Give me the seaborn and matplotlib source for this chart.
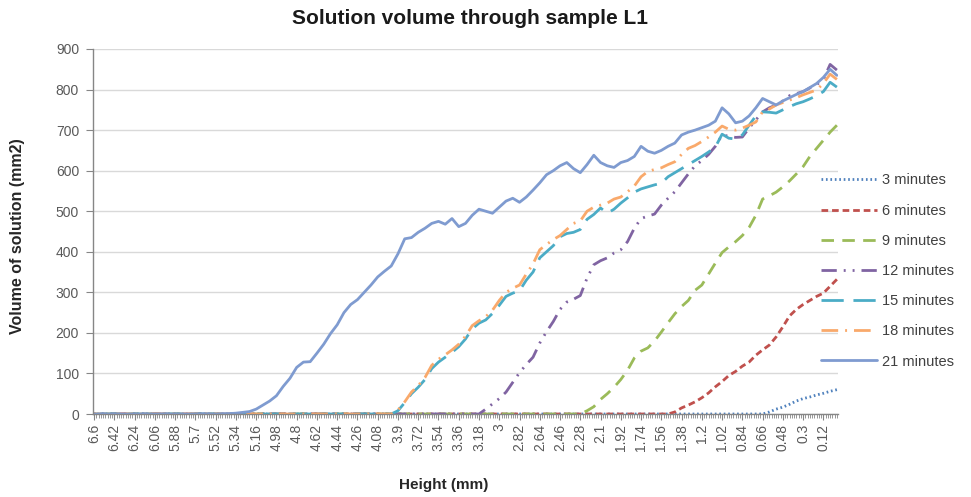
import numpy as np
import pandas as pd
import matplotlib
matplotlib.use("Agg")
import matplotlib.pyplot as plt
import seaborn as sns

# --- data: volume of solution (mm2) read every 0.06 mm of height, 6.6 -> 0.0 ---
heights = [round(6.6 - 0.06 * k, 2) for k in range(111)]

vol_3min = [
    0, 0, 0, 0, 0, 0, 0, 0, 0, 0, 0, 0, 0, 0, 0, 0, 0, 0, 0, 0,
    0, 0, 0, 0, 0, 0, 0, 0, 0, 0, 0, 0, 0, 0, 0, 0, 0, 0, 0, 0,
    0, 0, 0, 0, 0, 0, 0, 0, 0, 0, 0, 0, 0, 0, 0, 0, 0, 0, 0, 0,
    0, 0, 0, 0, 0, 0, 0, 0, 0, 0, 0, 0, 0, 0, 0, 0, 0, 0, 0, 0,
    0, 0, 0, 0, 0, 0, 0, 0, 0, 0, 0, 0, 0, 0, 0, 0, 0, 0, 0, 0,
    5, 12, 17, 24, 32, 38, 42, 47, 51, 56, 60,
]
vol_6min = [
    0, 0, 0, 0, 0, 0, 0, 0, 0, 0, 0, 0, 0, 0, 0, 0, 0, 0, 0, 0,
    0, 0, 0, 0, 0, 0, 0, 0, 0, 0, 0, 0, 0, 0, 0, 0, 0, 0, 0, 0,
    0, 0, 0, 0, 0, 0, 0, 0, 0, 0, 0, 0, 0, 0, 0, 0, 0, 0, 0, 0,
    0, 0, 0, 0, 0, 0, 0, 0, 0, 0, 0, 0, 0, 0, 0, 0, 0, 0, 0, 0,
    0, 0, 0, 0, 0, 0, 5, 15, 22, 30, 40, 52, 67, 80, 95, 105, 118, 128, 145, 158,
    170, 190, 215, 242, 258, 270, 280, 290, 298, 315, 332,
]
vol_9min = [
    0, 0, 0, 0, 0, 0, 0, 0, 0, 0, 0, 0, 0, 0, 0, 0, 0, 0, 0, 0,
    0, 0, 0, 0, 0, 0, 0, 0, 0, 0, 0, 0, 0, 0, 0, 0, 0, 0, 0, 0,
    0, 0, 0, 0, 0, 0, 0, 0, 0, 0, 0, 0, 0, 0, 0, 0, 0, 0, 0, 0,
    0, 0, 0, 0, 0, 0, 0, 0, 0, 0, 0, 0, 0, 8, 18, 36, 50, 66, 85, 108,
    138, 155, 163, 180, 202, 225, 247, 265, 280, 305, 318, 345, 372, 398, 412, 425, 440, 460, 490, 530,
    538, 547, 560, 575, 592, 610, 635, 655, 675, 695, 712,
]
vol_12min = [
    0, 0, 0, 0, 0, 0, 0, 0, 0, 0, 0, 0, 0, 0, 0, 0, 0, 0, 0, 0,
    0, 0, 0, 0, 0, 0, 0, 0, 0, 0, 0, 0, 0, 0, 0, 0, 0, 0, 0, 0,
    0, 0, 0, 0, 0, 0, 0, 0, 0, 0, 0, 0, 0, 0, 0, 0, 0, 0, 12, 25,
    38, 54, 78, 102, 122, 140, 175, 203, 228, 258, 276, 283, 292, 335, 368, 378, 385, 397, 405, 425,
    458, 482, 488, 493, 515, 532, 548, 570, 592, 612, 625, 640, 660, 688, 685, 682, 683, 705, 725, 745,
    755, 762, 772, 785, 790, 795, 804, 812, 825, 862, 848,
]
vol_15min = [
    0, 0, 0, 0, 0, 0, 0, 0, 0, 0, 0, 0, 0, 0, 0, 0, 0, 0, 0, 0,
    0, 0, 0, 0, 0, 0, 0, 0, 0, 0, 0, 0, 0, 0, 0, 0, 0, 0, 0, 0,
    0, 0, 0, 0, 0, 8, 28, 50, 66, 85, 112, 128, 140, 152, 166, 185, 210, 224, 232, 248,
    268, 290, 298, 304, 330, 350, 385, 400, 415, 437, 445, 448, 455, 480, 492, 508, 495, 505, 520, 533,
    547, 555, 560, 565, 569, 585, 595, 605, 615, 625, 635, 646, 658, 690, 680, 678, 688, 712, 735, 745,
    744, 742, 750, 758, 765, 770, 777, 785, 795, 818, 806,
]
vol_18min = [
    0, 0, 0, 0, 0, 0, 0, 0, 0, 0, 0, 0, 0, 0, 0, 0, 0, 0, 0, 0,
    0, 0, 0, 0, 0, 0, 0, 0, 0, 0, 0, 0, 0, 0, 0, 0, 0, 0, 0, 0,
    0, 0, 0, 0, 0, 10, 30, 54, 70, 90, 120, 135, 146, 158, 172, 192, 218, 230, 240, 256,
    280, 300, 310, 318, 345, 370, 405, 418, 430, 440, 455, 470, 476, 500, 510, 515, 520, 530, 535, 548,
    562, 585, 598, 603, 607, 615, 622, 640, 655, 662, 672, 683, 695, 710, 702, 700, 705, 712, 720, 745,
    752, 762, 768, 774, 780, 787, 793, 799, 815, 838, 825,
]
vol_21min = [
    0, 0, 0, 0, 0, 0, 0, 0, 0, 0, 0, 0, 0, 0, 0, 0, 0, 0, 0, 1,
    1, 2, 4, 6, 12, 22, 32, 45, 68, 88, 115, 128, 129, 150, 172, 198, 220, 250, 270, 282,
    300, 318, 338, 352, 365, 395, 432, 435, 448, 458, 470, 475, 468, 482, 462, 470, 490, 505, 500, 495,
    510, 525, 532, 522, 535, 552, 570, 590, 600, 612, 620, 605, 595, 615, 638, 620, 612, 608, 620, 625,
    635, 660, 648, 643, 650, 660, 668, 688, 695, 700, 706, 712, 722, 755, 740, 718, 722, 735, 755, 778,
    770, 762, 772, 780, 788, 795, 805, 815, 830, 850, 835,
]

series_names = ["3 minutes", "6 minutes", "9 minutes", "12 minutes",
                "15 minutes", "18 minutes", "21 minutes"]
series_values = [vol_3min, vol_6min, vol_9min, vol_12min,
                 vol_15min, vol_18min, vol_21min]

tick_heights = [round(6.6 - 0.18 * k, 2) for k in range(37)]

# --- styles (Excel 2007 look) ---
colors = {
    "3 minutes": "#4F81BD",
    "6 minutes": "#C0504D",
    "9 minutes": "#9BBB59",
    "12 minutes": "#8064A2",
    "15 minutes": "#4BACC6",
    "18 minutes": "#F9A96B",
    "21 minutes": "#7F9BD0",
}
dash_styles = {
    "3 minutes": (0.6, 1.0),
    "6 minutes": (2.4, 1.4),
    "9 minutes": (4.5, 3.0),
    "12 minutes": (5.5, 2.5, 0.7, 2.5, 0.7, 2.5),
    "15 minutes": (8.0, 3.5),
    "18 minutes": (6.0, 2.5, 0.7, 2.5),
    "21 minutes": "",
}

df = pd.concat([
    pd.DataFrame({"height": heights, "volume": vals, "series": name})
    for name, vals in zip(series_names, series_values)
], ignore_index=True)

sns.set_style("white")
plt.rcParams["font.family"] = ["Liberation Sans", "DejaVu Sans"]

fig = plt.figure(figsize=(9.71, 4.97), dpi=100)
ax = fig.add_axes([93 / 971, 1 - 414 / 497, (838 - 93) / 971, (414 - 49) / 497])

sns.lineplot(data=df, x="height", y="volume", hue="series", style="series",
             hue_order=series_names, style_order=series_names,
             palette=colors, dashes=dash_styles, linewidth=2.0, ax=ax,
             estimator=None, sort=True)

ax.set_xlim(6.61, -0.01)
ax.set_ylim(0, 900)
ax.set_yticks(range(0, 901, 100))
ax.set_xticks(tick_heights)
ax.set_xticklabels([f"{t:g}" for t in tick_heights], rotation=90)
ax.set_xticks(np.arange(0.0, 6.61, 0.02), minor=True)

ax.grid(axis="y", color="#D9D9D9", linewidth=1.0)
ax.grid(axis="x", visible=False)
ax.set_axisbelow(True)
for side in ["top", "right"]:
    ax.spines[side].set_visible(False)
for side in ["left", "bottom"]:
    ax.spines[side].set_color("#868686")
    ax.spines[side].set_linewidth(1.0)

ax.tick_params(axis="y", which="major", direction="out", length=5, color="#868686",
               labelsize=10, labelcolor="#595959", pad=5, left=True)
ax.tick_params(axis="x", which="major", direction="out", length=4, color="#868686",
               labelsize=10, labelcolor="#595959", pad=3, bottom=True)
ax.tick_params(axis="x", which="minor", direction="out", length=3, color="#868686",
               width=0.6, bottom=True)

ax.set_xlabel("")
ax.set_ylabel("")
fig.text(444 / 971, 1 - 485 / 497, "Height (mm)", ha="center", va="center",
         fontsize=11, fontweight="bold", color="#262626")
fig.text(18 / 971, 1 - 236 / 497, "Volume of solution (mm2)", ha="center", va="center",
         rotation=90, fontsize=11.5, fontweight="bold", color="#262626")
fig.text(470 / 971, 1 - 18 / 497, "Solution volume through sample L1",
         ha="center", va="center", fontsize=15, fontweight="bold", color="#1a1a1a")

handles, labels = ax.get_legend_handles_labels()
ax.legend(handles, labels, loc="center left", frameon=False,
          bbox_to_anchor=(821 / 971, 1 - 271 / 497), bbox_transform=fig.transFigure,
          fontsize=10.5, handlelength=3.85, handletextpad=0.34, labelspacing=1.11,
          borderpad=0, borderaxespad=0, labelcolor="#404040")

fig.savefig("out.png", dpi=100)
